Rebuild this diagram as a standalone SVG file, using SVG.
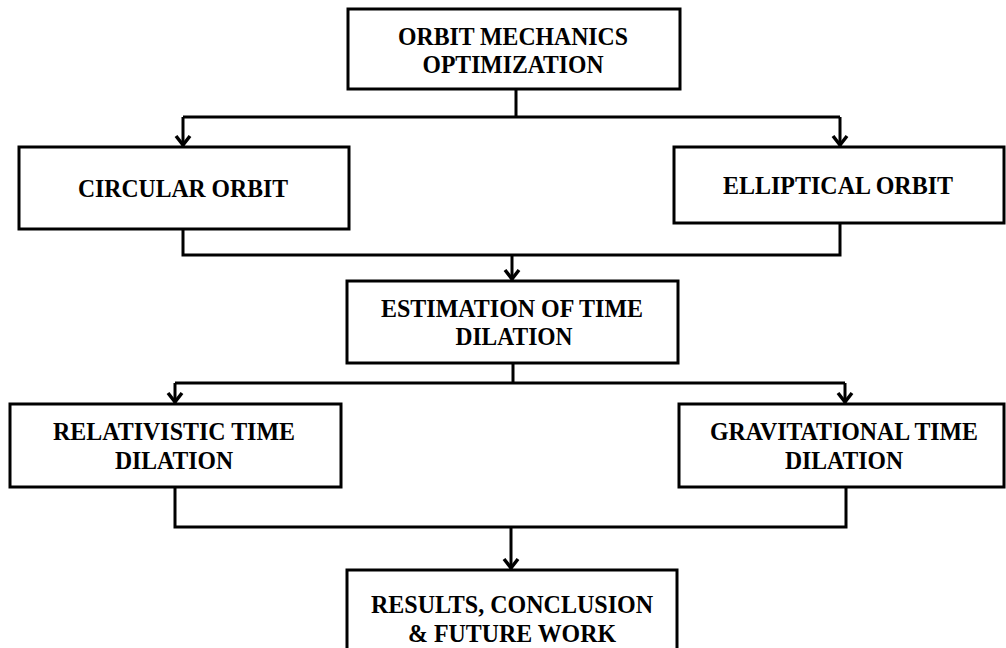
<svg xmlns="http://www.w3.org/2000/svg" width="1006" height="648" viewBox="0 0 1006 648">
<style>
.box{fill:#fff;stroke:#000;stroke-width:3}
.t{font-family:"Liberation Serif","Times New Roman",serif;font-weight:bold;font-size:26px;fill:#000;text-anchor:middle}
.c{fill:none;stroke:#000;stroke-width:3}
.a{fill:none;stroke:#000;stroke-width:3;marker-end:url(#arr)}
</style>
<defs>
<marker id="arr" markerUnits="userSpaceOnUse" markerWidth="24" markerHeight="24" viewBox="-12 -12 24 24" refX="0" refY="0" orient="auto">
<path d="M-10,-7 L-1,0 L-10,7" fill="none" stroke="#000" stroke-width="3.5"/>
</marker>
</defs>
<rect width="1006" height="648" fill="#fff"/>
<g id="connectors">
<path class="c" d="M516,89 V117 M183,117 H840"/>
<path class="a" d="M183,117 V146"/>
<path class="a" d="M840,117 V146"/>
<path class="c" d="M183,229 V255 H840 V223"/>
<path class="a" d="M512,255 V280"/>
<path class="c" d="M513,363 V383 M175,383 H845"/>
<path class="a" d="M175,383 V403"/>
<path class="a" d="M845,383 V403"/>
<path class="c" d="M175,487 V527 H846 V487"/>
<path class="a" d="M511,527 V569"/>
</g>
<g id="n-orbit">
<rect class="box" x="348" y="9" width="332" height="80"/>
<text class="t" x="513" y="45" textLength="230" lengthAdjust="spacingAndGlyphs">ORBIT MECHANICS</text>
<text class="t" x="513" y="73" textLength="181" lengthAdjust="spacingAndGlyphs">OPTIMIZATION</text>
</g>
<g id="n-circular">
<rect class="box" x="19" y="147" width="330" height="82"/>
<text class="t" x="183" y="197" textLength="210" lengthAdjust="spacingAndGlyphs">CIRCULAR ORBIT</text>
</g>
<g id="n-elliptical">
<rect class="box" x="674" y="147" width="330" height="76"/>
<text class="t" x="838" y="194" textLength="230" lengthAdjust="spacingAndGlyphs">ELLIPTICAL ORBIT</text>
</g>
<g id="n-estimation">
<rect class="box" x="347" y="281" width="331" height="82"/>
<text class="t" x="512" y="317" textLength="262" lengthAdjust="spacingAndGlyphs">ESTIMATION OF TIME</text>
<text class="t" x="514" y="345" textLength="117" lengthAdjust="spacingAndGlyphs">DILATION</text>
</g>
<g id="n-relativistic">
<rect class="box" x="10" y="404" width="331" height="83"/>
<text class="t" x="174" y="440" textLength="242" lengthAdjust="spacingAndGlyphs">RELATIVISTIC TIME</text>
<text class="t" x="174" y="469" textLength="118" lengthAdjust="spacingAndGlyphs">DILATION</text>
</g>
<g id="n-gravitational">
<rect class="box" x="679" y="404" width="325" height="83"/>
<text class="t" x="844" y="440" textLength="268" lengthAdjust="spacingAndGlyphs">GRAVITATIONAL TIME</text>
<text class="t" x="844" y="469" textLength="118" lengthAdjust="spacingAndGlyphs">DILATION</text>
</g>
<g id="n-results">
<rect class="box" x="347" y="570" width="330" height="90"/>
<text class="t" x="512" y="613" textLength="282" lengthAdjust="spacingAndGlyphs">RESULTS, CONCLUSION</text>
<text class="t" x="512" y="642" textLength="208" lengthAdjust="spacingAndGlyphs">&amp; FUTURE WORK</text>
</g>
</svg>
